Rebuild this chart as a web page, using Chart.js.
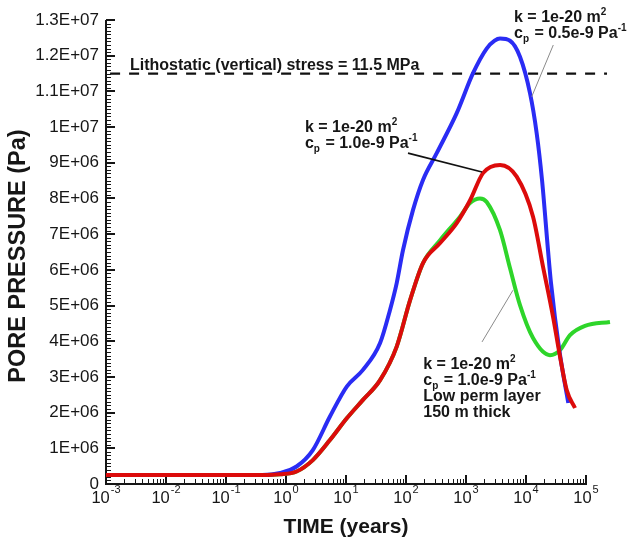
<!DOCTYPE html>
<html>
<head>
<meta charset="utf-8">
<script src="https://cdn.jsdelivr.net/npm/chart.js@4.4.1/dist/chart.umd.min.js"></script>
<style>
  html, body { margin: 0; padding: 0; background: #ffffff; }
  canvas { display: block; }
</style>
</head>
<body>
<canvas id="chart" width="629" height="545"></canvas>
<script>
// Pore pressure history (Pa) against time (years)

// k = 1e-20 m2, cp = 1.0e-9 1/Pa
const redTime = [0.001, 0.01, 0.1, 0.4, 0.8, 1.5, 2.8, 5.4, 10.3, 19, 37, 70, 117, 192, 370,
  700, 1170, 1920, 3700, 7000, 13100, 19200, 28200, 36900, 47700, 65600];
const redPressure = [2.5e5, 2.5e5, 2.5e5, 2.5e5, 2.7e5, 3.5e5, 6.7e5, 1.23e6, 1.84e6, 2.35e6, 2.91e6,
  3.85e6, 5.15e6, 6.19e6, 6.75e6, 7.31e6, 7.95e6, 8.71e6, 8.94e6, 8.61e6, 7.49e6, 6.09e6, 4.69e6,
  3.57e6, 2.63e6, 2.13e6];

// k = 1e-20 m2, cp = 0.5e-9 1/Pa
const blueTime = [0.001, 0.01, 0.1, 0.4, 0.8, 1.5, 2.8, 5.4, 10.3, 19, 37, 54, 70, 89, 131, 192,
  325, 700, 1310, 2210, 3000, 3690, 5410, 7940, 11660, 15060, 18490, 23270, 26100, 35900, 50700];
const bluePressure = [2.5e5, 2.5e5, 2.5e5, 2.5e5, 3.1e5, 4.9e5, 9.5e5, 1.89e6, 2.73e6, 3.19e6,
  3.95e6, 4.87e6, 5.63e6, 6.55e6, 7.68e6, 8.52e6, 9.27e6, 10.39e6, 11.51e6, 12.2e6, 12.42e6,
  12.48e6, 12.42e6, 11.97e6, 10.95e6, 9.83e6, 8.52e6, 6.55e6, 5.63e6, 3.75e6, 2.27e6];

// k = 1e-20 m2, cp = 1.0e-9 1/Pa, low perm layer 150 m thick
const greenTime = [0.001, 0.01, 0.1, 0.4, 0.8, 1.5, 2.8, 5.4, 10.3, 19, 37, 70, 117, 192, 370,
  794, 1166, 1711, 2213, 3690, 5410, 7940, 13090, 25100, 36900, 54100, 96200, 251000];
const greenPressure = [2.5e5, 2.5e5, 2.5e5, 2.5e5, 2.7e5, 3.5e5, 6.7e5, 1.23e6, 1.84e6, 2.35e6,
  2.91e6, 3.85e6, 5.15e6, 6.19e6, 6.83e6, 7.49e6, 7.87e6, 8.0e6, 7.9e6, 7.11e6, 6.05e6, 5.01e6,
  4.09e6, 3.61e6, 3.75e6, 4.17e6, 4.43e6, 4.54e6];

// Lithostatic (vertical) stress
const lithoTime = [1.17e-3, 2.24e5];
const lithoPressure = [11.5e6, 11.5e6];

// Axis tick labels
const yTickLabels = ['0', '1E+06', '2E+06', '3E+06', '4E+06', '5E+06', '6E+06', '7E+06',
  '8E+06', '9E+06', '1E+07', '1.1E+07', '1.2E+07', '1.3E+07'];
const xTickExponents = ['-3', '-2', '-1', '0', '1', '2', '3', '4', '5'];

const FONT = '"Liberation Sans", Arial, Helvetica, sans-serif';
const INK = '#161616';

function points(times, values) {
  return times.map((t, i) => ({ x: t, y: values[i] }));
}

// Annotation blocks: anchor is (time, pressure) of the first baseline
const notes = [
  { t: 2.51e-3, p: 11.6e6, lines: [[{ s: 'Lithostatic (vertical) stress = 11.5 MPa' }]] },
  { t: 6310, p: 12.95e6, lines: [
      [{ s: 'k = 1e-20 m' }, { s: '2', sup: true }],
      [{ s: 'c' }, { s: 'p', sub: true }, { s: ' = 0.5e-9 Pa' }, { s: '-1', sup: true }]] },
  { t: 2.07, p: 9.87e6, lines: [
      [{ s: 'k = 1e-20 m' }, { s: '2', sup: true }],
      [{ s: 'c' }, { s: 'p', sub: true }, { s: ' = 1.0e-9 Pa' }, { s: '-1', sup: true }]] },
  { t: 194, p: 3.22e6, lines: [
      [{ s: 'k = 1e-20 m' }, { s: '2', sup: true }],
      [{ s: 'c' }, { s: 'p', sub: true }, { s: ' = 1.0e-9 Pa' }, { s: '-1', sup: true }],
      [{ s: 'Low perm layer' }],
      [{ s: '150 m thick' }]] }
];

// Leader lines from labels to curves, in (time, pressure)
const leaders = [
  { from: [108, 9.27e6], to: [1848, 8.74e6], color: '#111111', width: 1.6 },
  { from: [28500, 12.3e6], to: [12450, 10.85e6], color: '#8a8a8a', width: 1 },
  { from: [1848, 3.98e6], to: [6070, 5.43e6], color: '#8a8a8a', width: 1 }
];

const decor = {
  id: 'decor',
  beforeDatasetsDraw(chart) {
    const { ctx, chartArea: a, scales: { x, y } } = chart;
    ctx.save();
    ctx.strokeStyle = INK;
    // y ticks (inward), major every 1e6, minor every 1e5
    for (let i = 0; i <= 130; i++) {
      const py = Math.round(y.getPixelForValue(i * 1e5));
      const major = i % 10 === 0;
      ctx.lineWidth = major ? 2 : 1;
      ctx.beginPath();
      ctx.moveTo(a.left, major ? py : py + 0.5);
      ctx.lineTo(a.left + (major ? 9 : 5), major ? py : py + 0.5);
      ctx.stroke();
    }
    // x ticks (inward), decades and 2..9 minors
    for (let k = -3; k <= 5; k++) {
      const px = Math.round(x.getPixelForValue(Math.pow(10, k)));
      ctx.lineWidth = 2;
      ctx.beginPath();
      ctx.moveTo(px, a.bottom);
      ctx.lineTo(px, a.bottom - 9);
      ctx.stroke();
      if (k < 5) {
        for (let m = 2; m <= 9; m++) {
          const mx = Math.round(x.getPixelForValue(m * Math.pow(10, k))) + 0.5;
          ctx.lineWidth = 1;
          ctx.beginPath();
          ctx.moveTo(mx, a.bottom);
          ctx.lineTo(mx, a.bottom - 5);
          ctx.stroke();
        }
      }
    }
    // axis lines
    ctx.lineWidth = 2;
    ctx.beginPath();
    ctx.moveTo(a.left, a.top);
    ctx.lineTo(a.left, a.bottom);
    ctx.lineTo(a.right + 1, a.bottom);
    ctx.stroke();
    ctx.restore();
  },
  afterDatasetsDraw(chart) {
    const { ctx, chartArea: a, scales: { x, y } } = chart;
    ctx.save();
    ctx.fillStyle = INK;

    // x tick labels: 10 with superscript exponent
    ctx.textBaseline = 'alphabetic';
    ctx.textAlign = 'left';
    xTickExponents.forEach((e) => {
      const px = x.getPixelForValue(Math.pow(10, Number(e)));
      ctx.font = '16.5px ' + FONT;
      const w1 = ctx.measureText('10').width;
      ctx.font = '11px ' + FONT;
      const w2 = ctx.measureText(e).width;
      const left = px - (w1 + w2 + 1) / 2;
      ctx.font = '16.5px ' + FONT;
      ctx.fillText('10', left, 503);
      ctx.font = '11px ' + FONT;
      ctx.fillText(e, left + w1 + 1, 493);
    });

    // axis titles
    ctx.textAlign = 'center';
    ctx.textBaseline = 'middle';
    ctx.font = 'bold 21px ' + FONT;
    ctx.fillText('TIME (years)', (a.left + a.right) / 2, 527);
    ctx.save();
    ctx.translate(19, 256);
    ctx.rotate(-Math.PI / 2);
    ctx.font = 'bold 23.5px ' + FONT;
    ctx.fillText('PORE PRESSURE (Pa)', 0, 0);
    ctx.restore();

    // leader lines
    leaders.forEach((l) => {
      ctx.strokeStyle = l.color;
      ctx.lineWidth = l.width;
      ctx.beginPath();
      ctx.moveTo(x.getPixelForValue(l.from[0]), y.getPixelForValue(l.from[1]));
      ctx.lineTo(x.getPixelForValue(l.to[0]), y.getPixelForValue(l.to[1]));
      ctx.stroke();
    });

    // annotation text
    ctx.textAlign = 'left';
    ctx.textBaseline = 'alphabetic';
    notes.forEach((n) => {
      const x0 = x.getPixelForValue(n.t);
      let base = y.getPixelForValue(n.p);
      n.lines.forEach((parts) => {
        let cx = x0;
        parts.forEach((part) => {
          const small = part.sup || part.sub;
          ctx.font = 'bold ' + (small ? 10 : 16) + 'px ' + FONT;
          const dy = part.sup ? -7 : part.sub ? 4 : 0;
          ctx.fillText(part.s, cx, base + dy);
          cx += ctx.measureText(part.s).width + (small ? 1 : 0);
        });
        base += 16;
      });
    });
    ctx.restore();
  }
};

const lineStyle = {
  borderWidth: 4,
  pointRadius: 0,
  fill: false,
  cubicInterpolationMode: 'monotone'
};

new Chart(document.getElementById('chart'), {
  type: 'line',
  data: {
    datasets: [
      Object.assign({ label: 'cp = 1.0e-9', data: points(redTime, redPressure), borderColor: '#dc0b0b' }, lineStyle),
      Object.assign({ label: 'cp = 0.5e-9', data: points(blueTime, bluePressure), borderColor: '#2a2cf4' }, lineStyle),
      Object.assign({ label: 'Low perm layer', data: points(greenTime, greenPressure), borderColor: '#2ed52a', clip: false }, lineStyle),
      { label: 'Lithostatic stress', data: points(lithoTime, lithoPressure), borderColor: '#111111',
        borderWidth: 2.2, borderDash: [10, 9], pointRadius: 0, clip: false, tension: 0 }
    ]
  },
  options: {
    responsive: false,
    animation: false,
    events: [],
    layout: { padding: { top: 20, right: 43, left: 0, bottom: 0 } },
    plugins: { legend: { display: false }, tooltip: { enabled: false } },
    scales: {
      x: {
        type: 'logarithmic', min: 1e-3, max: 1e5,
        ticks: { display: false },
        grid: { display: false, drawTicks: false },
        border: { display: false },
        afterFit(s) { s.height = 61; }
      },
      y: {
        type: 'linear', min: 0, max: 1.3e7,
        ticks: {
          stepSize: 1e6, padding: 7, color: INK,
          font: { family: FONT, size: 17 },
          callback: (v) => yTickLabels[Math.round(v / 1e6)]
        },
        grid: { display: false, drawTicks: false },
        border: { display: false },
        afterFit(s) { s.height = undefined; s.width = 106; }
      }
    }
  },
  plugins: [decor]
});
</script>
</body>
</html>
